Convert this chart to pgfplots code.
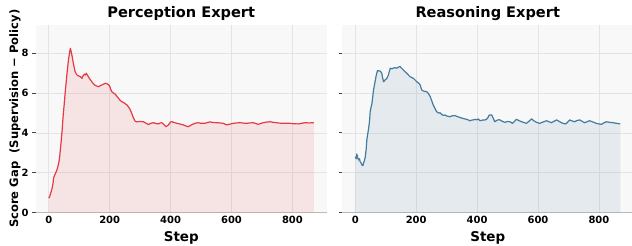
\documentclass[border=0pt]{standalone}
\usepackage{fontspec}
\setmainfont{DejaVu Sans}
\usepackage{pgfplots}
\usepackage{pgfplotstable}
\pgfplotsset{compat=1.18}
\definecolor{redc}{HTML}{E63946}
\definecolor{bluec}{HTML}{457B9D}
\definecolor{bgc}{HTML}{F8F8F8}
\definecolor{gridc}{HTML}{E4E4E4}
\definecolor{spinec}{HTML}{BBBBBB}
\definecolor{tickc}{HTML}{444444}

\pgfplotstableread{
step val
0 0.72
3 0.80
6 0.95
10 1.15
14 1.45
16 1.75
19 1.85
22 1.97
26 2.10
30 2.30
33 2.50
36 2.80
38 3.14
41 3.60
44 4.15
47 4.80
51 5.49
55 6.20
60 7.00
65 7.70
69 8.10
71 8.25
74 8.05
77 7.83
80 7.55
82 7.41
86 7.10
91 6.94
95 6.88
100 6.85
104 6.82
109 6.74
113 6.88
117 6.95
120 6.90
123 7.00
127 6.90
131 6.80
135 6.70
140 6.60
145 6.49
150 6.42
153 6.38
158 6.35
164 6.32
170 6.38
175 6.41
180 6.45
186 6.49
191 6.47
197 6.41
200 6.35
204 6.16
208 6.05
213 6.00
218 5.95
223 5.85
229 5.74
235 5.62
240 5.57
248 5.50
257 5.40
262 5.30
268 5.15
273 4.95
278 4.75
284 4.58
289 4.56
300 4.57
311 4.56
320 4.48
327 4.42
335 4.48
344 4.51
352 4.47
360 4.45
366 4.50
371 4.51
378 4.42
385 4.31
393 4.40
400 4.55
404 4.56
412 4.52
420 4.48
430 4.45
442 4.40
450 4.35
458 4.31
466 4.38
475 4.45
483 4.49
491 4.51
500 4.48
513 4.48
521 4.52
529 4.55
540 4.52
551 4.51
562 4.50
573 4.48
584 4.40
595 4.44
606 4.48
617 4.50
628 4.51
640 4.49
650 4.48
660 4.50
671 4.51
680 4.47
688 4.43
696 4.47
704 4.51
715 4.54
726 4.56
737 4.53
748 4.51
758 4.49
769 4.48
780 4.48
791 4.48
805 4.46
819 4.45
830 4.48
840 4.51
855 4.50
870 4.51
}\percdata

\pgfplotstableread{
step val
0 2.80
3 2.70
5 2.94
8 2.75
11 2.64
14 2.70
16 2.55
19 2.50
22 2.39
25 2.35
27 2.47
30 2.60
33 2.80
36 3.20
38 3.64
41 3.95
44 4.23
47 4.60
49 5.07
52 5.30
55 5.49
58 5.90
60 6.16
63 6.40
65 6.57
69 6.90
73 7.13
77 7.12
82 7.10
85 7.05
87 7.00
90 6.75
93 6.57
96 6.62
98 6.66
101 6.70
104 6.74
107 6.85
109 6.91
112 7.10
115 7.25
120 7.22
125 7.25
130 7.28
136 7.25
141 7.30
147 7.33
152 7.25
158 7.16
163 7.08
169 7.00
175 6.90
180 6.82
186 6.78
191 6.74
197 6.65
202 6.57
208 6.50
213 6.41
218 6.16
224 6.10
230 6.08
235 6.07
240 5.98
246 5.82
251 5.62
256 5.40
262 5.22
267 5.07
273 5.00
278 5.01
284 4.92
290 4.88
295 4.90
300 4.85
306 4.83
311 4.81
316 4.85
322 4.86
327 4.87
333 4.83
339 4.80
344 4.77
350 4.74
356 4.72
360 4.70
366 4.68
371 4.65
376 4.61
382 4.64
387 4.65
393 4.68
398 4.66
404 4.70
409 4.61
415 4.63
420 4.65
426 4.65
431 4.68
436 4.78
440 4.90
448 4.90
453 4.73
458 4.56
464 4.62
470 4.66
475 4.65
483 4.58
491 4.53
500 4.57
508 4.56
516 4.48
523 4.58
529 4.68
537 4.62
546 4.56
554 4.52
562 4.48
570 4.58
579 4.70
587 4.60
595 4.53
606 4.48
617 4.55
628 4.61
636 4.56
644 4.51
652 4.58
661 4.65
669 4.58
677 4.51
684 4.47
691 4.45
698 4.55
704 4.65
712 4.60
720 4.56
728 4.62
737 4.65
745 4.58
753 4.51
761 4.56
769 4.61
780 4.55
791 4.48
800 4.45
808 4.43
816 4.50
824 4.56
835 4.53
846 4.51
858 4.48
870 4.45
}\reasdata

\pgfplotsset{
  panel/.style={
    scale only axis,
    width=291.5bp, height=187.5bp,
    anchor=south west,
    xmin=-43.5, xmax=913.5, ymin=0, ymax=9.42,
    xtick={0,200,400,600,800},
    ytick={0,2,4,6,8},
    grid=major,
    major grid style={color=gridc, line width=0.7bp},
    axis background/.style={fill=bgc},
    axis x line*=bottom, axis y line*=left,
    x axis line style={color=spinec, line width=0.9bp, -},
    y axis line style={draw=none, -},
    tick align=outside,
    major tick length=3.3bp,
    xtick style={draw=none},
    ytick style={color=tickc, line width=0.8bp},
    ticklabel style={font=\bfseries\fontsize{10}{12}\selectfont},
    xticklabel style={yshift=3bp},
    /pgf/number format/assume math mode=true,
    every axis title/.style={at={(axis description cs:0.5,1)}, anchor=base, yshift=7.5bp, font=\bfseries\fontsize{14.6}{17}\selectfont},
    every axis x label/.style={at={(axis description cs:0.5,0)}, anchor=base, yshift=-29.1bp, font=\bfseries\fontsize{13.5}{16}\selectfont},
    xlabel={Step},
  }
}

\begin{document}
\begin{tikzpicture}
\useasboundingbox (0,0) rectangle (632bp,246bp);
\begin{axis}[panel, at={(35.5bp,33.5bp)},
  title={Perception Expert},
  ylabel={Score Gap\ \ (Supervision − Policy)},
  every axis y label/.style={at={(axis description cs:0,0.5)}, xshift=-17.5bp, rotate=90, anchor=base, font=\bfseries\fontsize{11.6}{14}\selectfont},
]
\addplot[draw=none, fill=redc, fill opacity=0.11] table[x=step, y=val] {\percdata} \closedcycle;
\addplot[color=redc, line width=1.2bp, line join=round] table[x=step, y=val] {\percdata};
\end{axis}
\begin{axis}[panel, at={(342bp,33.5bp)},
  title={Reasoning Expert},
  yticklabels={},
]
\addplot[draw=none, fill=bluec, fill opacity=0.11] table[x=step, y=val] {\reasdata} \closedcycle;
\addplot[color=bluec, line width=1.2bp, line join=round] table[x=step, y=val] {\reasdata};
\end{axis}
\end{tikzpicture}
\end{document}
